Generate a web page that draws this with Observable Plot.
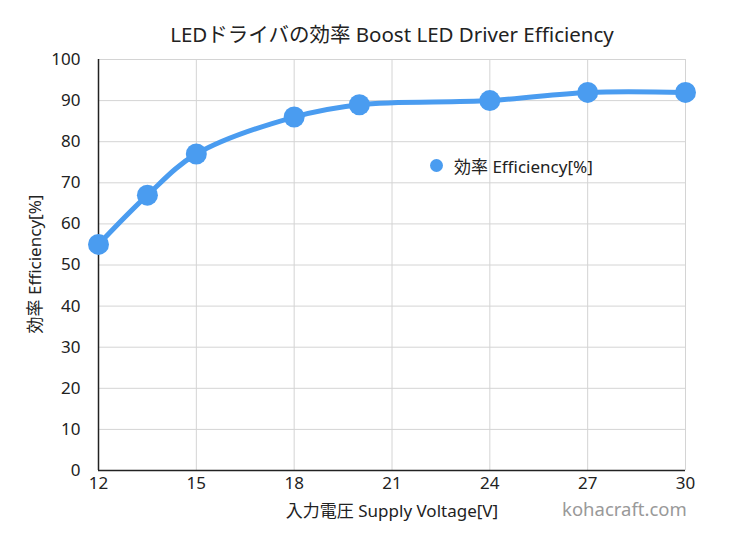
<!DOCTYPE html>
<html><head><meta charset="utf-8">
<script src="https://cdn.jsdelivr.net/npm/d3@7"></script>
<script src="https://cdn.jsdelivr.net/npm/@observablehq/plot@0.6"></script>
<style>
body{margin:0;background:#fff;font-family:"Noto Sans","Noto Sans CJK JP",sans-serif;}
#wrap{position:relative;width:741px;height:550px;}
.t{position:absolute;white-space:nowrap;color:#222;}
</style></head>
<body><div id="wrap"></div>
<script>
const voltage = [12, 13.5, 15, 18, 20, 24, 27, 30];
const efficiency = [55, 67, 77, 86, 89, 90, 92, 92];
const xTicks = [12, 15, 18, 21, 24, 27, 30];
const yTicks = [0, 10, 20, 30, 40, 50, 60, 70, 80, 90, 100];
const title = "LEDドライバの効率 Boost LED Driver Efficiency";
const xLabel = "入力電圧 Supply Voltage[V]";
const yLabel = "効率 Efficiency[%]";
const seriesName = "効率 Efficiency[%]";
const watermark = "kohacraft.com";

const data = voltage.map((v, i) => ({v, e: efficiency[i]}));
const color = "#4a9cf0";

const chart = Plot.plot({
  width: 741, height: 550,
  marginLeft: 98, marginRight: 56, marginTop: 59, marginBottom: 80,
  style: {fontFamily: "'Noto Sans','Noto Sans CJK JP',sans-serif", fontSize: "17px", color: "#222", background: "#fff"},
  x: {domain: [12, 30], ticks: xTicks, tickSize: 0, tickPadding: 6, label: null},
  y: {domain: [0, 100], ticks: yTicks, tickSize: 0, tickPadding: 18, label: null},
  marks: [
    Plot.gridX(xTicks, {stroke: "#d4d4d4", strokeOpacity: 1, strokeWidth: 1}),
    Plot.gridY(yTicks, {stroke: "#d4d4d4", strokeOpacity: 1, strokeWidth: 1}),
    Plot.axisX({ticks: xTicks, tickSize: 0, tickPadding: 6, fontSize: 17, label: null}),
    Plot.axisY({ticks: yTicks, tickSize: 0, tickPadding: 18, fontSize: 17, label: null}),
    Plot.ruleX([12], {stroke: "#222", strokeWidth: 1.5}),
    Plot.ruleY([0], {stroke: "#222", strokeWidth: 1.5}),
    Plot.line(data, {x: "v", y: "e", curve: "catmull-rom", stroke: color, strokeWidth: 5}),
    Plot.dot(data, {x: "v", y: "e", r: 10.5, fill: color, stroke: "none"})
  ]
});
const wrap = document.getElementById("wrap");
wrap.appendChild(chart);

function addText(txt, css){
  const d = document.createElement("div");
  d.className = "t"; d.textContent = txt;
  Object.assign(d.style, css);
  wrap.appendChild(d);
  return d;
}
addText(title, {left: "392px", top: "18px", fontSize: "20.5px", transform: "translateX(-50%)"});
addText(xLabel, {left: "392px", top: "497px", fontSize: "17px", transform: "translateX(-50%)"});
addText(watermark, {left: "562px", top: "496px", fontSize: "18.5px", color: "#999"});
addText(yLabel, {left: "33px", top: "264px", fontSize: "17px", transform: "translate(-50%,-50%) rotate(-90deg)"});
// legend
const leg = document.createElement("div");
leg.className = "t";
Object.assign(leg.style, {left: "430px", top: "153px", fontSize: "17px", display: "flex", alignItems: "center"});
leg.innerHTML = `<span style="display:inline-block;width:13px;height:13px;border-radius:50%;background:${color};margin-right:11px"></span>`;
leg.appendChild(document.createTextNode(seriesName));
wrap.appendChild(leg);
</script></body></html>
